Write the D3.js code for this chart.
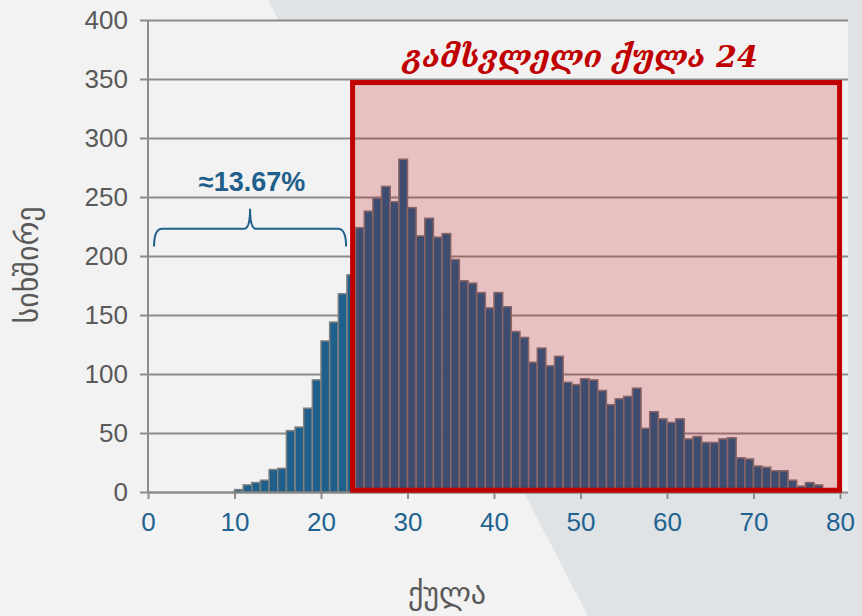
<!DOCTYPE html>
<html>
<head>
<meta charset="utf-8">
<script src="https://cdn.jsdelivr.net/npm/d3@7"></script>
<style>
  body { margin: 0; background: #f2f2f2; }
  svg { display: block; }
</style>
</head>
<body>
<div id="chart"></div>
<script>
// histogram data: score bins (start of each 1-point bin) and counts
var scores = d3.range(10, 78);
var counts = [2, 6, 8, 10, 19, 20, 52, 55, 71, 95, 128, 144, 168, 184,
  224, 238, 249, 259, 246, 282, 241, 217, 232, 216, 219, 197, 179, 177,
  169, 156, 169, 157, 136, 131, 110, 122, 107, 115, 93, 91, 96, 95, 86,
  74, 79, 81, 88, 54, 68, 62, 59, 62, 45, 47, 42, 42, 45, 46, 29, 28,
  22, 21, 18, 18, 10, 5, 8, 6];
var xTicks = [0, 10, 20, 30, 40, 50, 60, 70, 80];
var yTicks = [0, 50, 100, 150, 200, 250, 300, 350, 400];
var passScore = 24;
var shareBelow = "≈13.67%";

var W = 862, H = 616;
var margin = {top: 20, right: 22, bottom: 124, left: 148};

var svg = d3.select("#chart").append("svg")
  .attr("width", W)
  .attr("height", H);

// background with diagonal band
svg.append("rect").attr("width", W).attr("height", H).attr("fill", "#f2f2f2");
svg.append("path")
  .attr("d", "M268,0 L" + W + ",0 L" + W + "," + H + " L588," + H + " Z")
  .attr("fill", "#dfe3e6");

var x = d3.scaleLinear().domain([0, 80]).range([margin.left, 840]);
var y = d3.scaleLinear().domain([0, 400]).range([492, margin.top]);

// plot area
svg.append("rect")
  .attr("x", margin.left)
  .attr("y", y(400))
  .attr("width", W - margin.right + 8 - margin.left)
  .attr("height", y(0) - y(400))
  .attr("fill", "#f2f2f2");

// y axis + gridlines
var yAxis = svg.append("g")
  .attr("transform", "translate(" + margin.left + ",0)")
  .call(d3.axisLeft(y).tickValues(yTicks).tickSize(-(848 - margin.left)).tickSizeOuter(0).tickPadding(20));
yAxis.select(".domain").remove();
yAxis.selectAll(".tick line")
  .attr("x1", -8)
  .attr("stroke", "#8c8c8c")
  .attr("stroke-width", 2);
yAxis.selectAll(".tick text")
  .attr("fill", "#595959")
  .attr("font-family", "Liberation Sans, Arial, sans-serif")
  .attr("font-size", "26px");

svg.append("line")
  .attr("x1", margin.left).attr("x2", margin.left)
  .attr("y1", y(400)).attr("y2", y(0))
  .attr("stroke", "#8c8c8c").attr("stroke-width", 2);

// x axis
var xAxis = svg.append("g")
  .attr("transform", "translate(0," + y(0) + ")")
  .call(d3.axisBottom(x).tickValues(xTicks).tickSize(7).tickSizeOuter(0).tickPadding(14));
xAxis.select(".domain").attr("stroke", "#8c8c8c").attr("stroke-width", 2);
xAxis.selectAll(".tick line").attr("stroke", "#8c8c8c").attr("stroke-width", 2);
xAxis.selectAll(".tick text")
  .attr("fill", "#1f6391")
  .attr("font-family", "Liberation Sans, Arial, sans-serif")
  .attr("font-size", "26px");

// bars
svg.append("g").selectAll("rect")
  .data(scores)
  .join("rect")
  .attr("x", function(d) { return x(d); })
  .attr("y", function(d, i) { return y(counts[i]); })
  .attr("width", function(d) { return x(d + 1) - x(d); })
  .attr("height", function(d, i) { return y(0) - y(counts[i]); })
  .attr("fill", "#1f5f8b")
  .attr("stroke", "#808080")
  .attr("stroke-width", 1.5);

// passing-score highlight box
svg.append("rect")
  .attr("x", x(passScore - 0.35))
  .attr("y", y(347))
  .attr("width", x(79.95) - x(passScore - 0.35))
  .attr("height", y(1.5) - y(347))
  .attr("fill", "#c00000")
  .attr("fill-opacity", 0.2)
  .attr("stroke", "#c00000")
  .attr("stroke-width", 5);

svg.append("text")
  .attr("x", x(50))
  .attr("y", y(360))
  .attr("text-anchor", "middle")
  .attr("fill", "#c00000")
  .attr("font-family", "DejaVu Serif, serif")
  .attr("font-style", "italic")
  .attr("font-weight", "bold")
  .attr("font-size", "30px")
  .text("გამსვლელი ქულა " + passScore);

// brace over the failing share
var bx0 = x(0.7), bx1 = x(22.9), bxc = x(11.8);
var byl = y(223), byEnd = y(208), bySpike = y(240);
svg.append("path")
  .attr("d", "M" + bx0 + "," + byEnd +
    " Q" + bx0 + "," + byl + " " + (bx0 + 8) + "," + byl +
    " L" + (bxc - 6) + "," + byl +
    " Q" + bxc + "," + byl + " " + bxc + "," + bySpike +
    " Q" + bxc + "," + byl + " " + (bxc + 6) + "," + byl +
    " L" + (bx1 - 8) + "," + byl +
    " Q" + bx1 + "," + byl + " " + bx1 + "," + byEnd)
  .attr("fill", "none")
  .attr("stroke", "#1f5f8b")
  .attr("stroke-width", 2);

svg.append("text")
  .attr("x", bxc + 2)
  .attr("y", y(255))
  .attr("text-anchor", "middle")
  .attr("fill", "#1f5f8b")
  .attr("font-family", "Liberation Sans, Arial, sans-serif")
  .attr("font-weight", "bold")
  .attr("font-size", "27px")
  .text(shareBelow);

// axis titles
svg.append("text")
  .attr("transform", "translate(38,265) rotate(-90)")
  .attr("text-anchor", "middle")
  .attr("fill", "#595959")
  .attr("font-family", "DejaVu Sans, sans-serif")
  .attr("font-size", "30px")
  .text("სიხშირე");

svg.append("text")
  .attr("x", 447)
  .attr("y", 604)
  .attr("text-anchor", "middle")
  .attr("fill", "#595959")
  .attr("font-family", "DejaVu Sans, sans-serif")
  .attr("font-size", "30px")
  .text("ქულა");
</script>
</body>
</html>
